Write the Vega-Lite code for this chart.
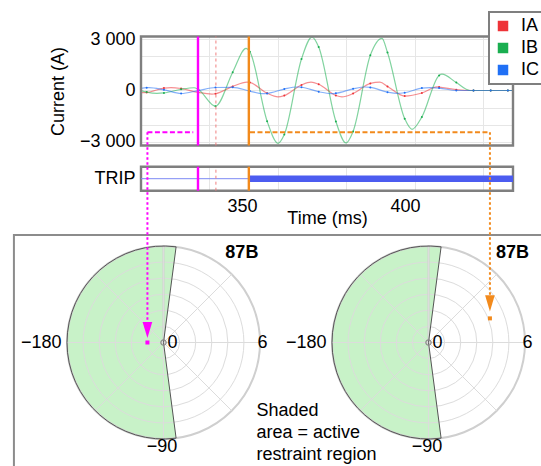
{
"$schema":"https://vega.github.io/schema/vega-lite/v6.json",
"width":541,"height":466,"autosize":"none","padding":0,"background":"white",
"config":{"view":{"stroke":null},"font":"Liberation Sans","axis":{"labelFont":"Liberation Sans","titleFont":"Liberation Sans","labelColor":"#000","titleColor":"#000"},"legend":{"strokeWidth":2,"labelFont":"Liberation Sans","labelColor":"#000"},"text":{"font":"Liberation Sans","color":"#000"}},
"resolve":{"scale":{"x":"independent","y":"independent","color":"independent","theta":"independent","radius":"independent","strokeWidth":"independent","opacity":"independent"}},
"datasets":{
"one":[{}],
"ev":[{"t":336.5,"e":"fault"},{"t":342.0,"e":"pickup"},{"t":352.1,"e":"trip"}],
"trip":[{"t0":319.02,"t1":352.4,"s":0},{"t0":352.4,"t1":433.13,"s":1}],
"sector":[{"a0":172.5,"a1":367.5,"r":6}],
"rings":[{"a0":0,"a1":360,"r":1},{"a0":0,"a1":360,"r":2},{"a0":0,"a1":360,"r":3},{"a0":0,"a1":360,"r":4},{"a0":0,"a1":360,"r":5}],
"outer":[{"a0":0,"a1":360,"r":6}],
"spokes":[{"x0":-6,"y0":0,"x1":6,"y1":0},{"x0":0,"y0":-6,"x1":0,"y1":6},{"x0":-4.243,"y0":-4.243,"x1":4.243,"y1":4.243},{"x0":-4.243,"y0":4.243,"x1":4.243,"y1":-4.243}],
"plab":[{"lbl":"−180","x":-7.6,"y":0},{"lbl":"0","x":0.56,"y":0},{"lbl":"6","x":6.15,"y":0},{"lbl":"−90","x":-0.1,"y":-6.5}],
"waves":[
{"t":319.02,"p":"IA","v":-130,"m":0},{"t":320.77,"p":"IA","v":-115,"m":1},{"t":326.05,"p":"IA","v":140,"m":1},{"t":328.22,"p":"IA","v":170,"m":0},{"t":331.32,"p":"IA","v":117,"m":1},{"t":336.6,"p":"IA","v":-115,"m":1},{"t":340.8,"p":"IA","v":-210,"m":0},{"t":341.87,"p":"IA","v":-191,"m":1},{"t":347.15,"p":"IA","v":238,"m":1},{"t":351.53,"p":"IA","v":490,"m":0},{"t":352.42,"p":"IA","v":472,"m":1},{"t":357.7,"p":"IA","v":-163,"m":1},{"t":361.04,"p":"IA","v":-376,"m":0},{"t":362.98,"p":"IA","v":-301,"m":1},{"t":368.25,"p":"IA","v":325,"m":1},{"t":371.17,"p":"IA","v":490,"m":0},{"t":373.53,"p":"IA","v":366,"m":1},{"t":378.8,"p":"IA","v":-295,"m":1},{"t":380.67,"p":"IA","v":-376,"m":0},{"t":384.08,"p":"IA","v":-178,"m":1},{"t":389.36,"p":"IA","v":414,"m":1},{"t":392.33,"p":"IA","v":490,"m":0},{"t":394.63,"p":"IA","v":237,"m":1},{"t":399.91,"p":"IA","v":-330,"m":1},{"t":405.18,"p":"IA","v":-150,"m":1},{"t":409.82,"p":"IA","v":210,"m":0},{"t":410.46,"p":"IA","v":200,"m":1},{"t":415.74,"p":"IA","v":50,"m":1},{"t":421.01,"p":"IA","v":0,"m":1},{"t":426.29,"p":"IA","v":0,"m":1},{"t":431.56,"p":"IA","v":0,"m":1},{"t":433.13,"p":"IA","v":0,"m":0},
{"t":319.02,"p":"IB","v":-8,"m":0},{"t":320.77,"p":"IB","v":-95,"m":1},{"t":323.93,"p":"IB","v":-170,"m":0},{"t":326.05,"p":"IB","v":-143,"m":1},{"t":331.32,"p":"IB","v":70,"m":1},{"t":335.28,"p":"IB","v":160,"m":0},{"t":336.6,"p":"IB","v":61,"m":1},{"t":341.87,"p":"IB","v":-920,"m":1},{"t":347.15,"p":"IB","v":1075,"m":1},{"t":351.23,"p":"IB","v":2470,"m":0},{"t":352.42,"p":"IB","v":2270,"m":1},{"t":357.7,"p":"IB","v":-1800,"m":1},{"t":361.04,"p":"IB","v":-3100,"m":0},{"t":362.98,"p":"IB","v":-2589,"m":1},{"t":368.25,"p":"IB","v":1850,"m":1},{"t":371.47,"p":"IB","v":3135,"m":0},{"t":373.53,"p":"IB","v":2557,"m":1},{"t":378.8,"p":"IB","v":-1818,"m":1},{"t":381.9,"p":"IB","v":-3080,"m":0},{"t":384.08,"p":"IB","v":-2405,"m":1},{"t":389.36,"p":"IB","v":2065,"m":1},{"t":392.94,"p":"IB","v":3060,"m":0},{"t":394.63,"p":"IB","v":2227,"m":1},{"t":399.91,"p":"IB","v":-1661,"m":1},{"t":402.15,"p":"IB","v":-2280,"m":0},{"t":405.18,"p":"IB","v":-1550,"m":1},{"t":410.46,"p":"IB","v":884,"m":1},{"t":411.35,"p":"IB","v":958,"m":0},{"t":415.74,"p":"IB","v":464,"m":1},{"t":419.94,"p":"IB","v":0,"m":0},{"t":421.01,"p":"IB","v":0,"m":1},{"t":426.29,"p":"IB","v":0,"m":1},{"t":431.56,"p":"IB","v":0,"m":1},{"t":433.13,"p":"IB","v":0,"m":0},
{"t":319.02,"p":"IC","v":123,"m":0},{"t":320.77,"p":"IC","v":166,"m":1},{"t":321.47,"p":"IC","v":170,"m":0},{"t":326.05,"p":"IC","v":40,"m":1},{"t":331.32,"p":"IC","v":-176,"m":1},{"t":336.6,"p":"IC","v":-3,"m":1},{"t":341.87,"p":"IC","v":176,"m":1},{"t":347.15,"p":"IC","v":185,"m":1},{"t":352.42,"p":"IC","v":-37,"m":1},{"t":356.44,"p":"IC","v":-185,"m":0},{"t":357.7,"p":"IC","v":-171,"m":1},{"t":362.98,"p":"IC","v":85,"m":1},{"t":366.87,"p":"IC","v":205,"m":0},{"t":368.25,"p":"IC","v":189,"m":1},{"t":373.53,"p":"IC","v":-72,"m":1},{"t":377.3,"p":"IC","v":-185,"m":0},{"t":378.8,"p":"IC","v":-165,"m":1},{"t":384.08,"p":"IC","v":98,"m":1},{"t":387.73,"p":"IC","v":205,"m":0},{"t":389.36,"p":"IC","v":180,"m":1},{"t":394.63,"p":"IC","v":-98,"m":1},{"t":397.55,"p":"IC","v":-175,"m":0},{"t":399.91,"p":"IC","v":-132,"m":1},{"t":405.18,"p":"IC","v":140,"m":1},{"t":407.67,"p":"IC","v":165,"m":0},{"t":410.46,"p":"IC","v":140,"m":1},{"t":415.74,"p":"IC","v":0,"m":1},{"t":421.01,"p":"IC","v":0,"m":1},{"t":426.29,"p":"IC","v":0,"m":1},{"t":431.56,"p":"IC","v":0,"m":1},{"t":433.13,"p":"IC","v":0,"m":0}
]},
"layer":[
{"data":{"name":"one"},"mark":{"type":"rect","filled":false,"stroke":"#8c8c8c","strokeWidth":2},"encoding":{"x":{"datum":-9.3,"type":"quantitative","scale":{"domain":[-6,6],"range":[67,260],"nice":false,"zero":false},"axis":null},"x2":{"datum":23.7},"y":{"datum":6.69,"type":"quantitative","scale":{"domain":[-6,6],"range":[439,246],"nice":false,"zero":false},"axis":null},"y2":{"datum":-7.93}}},

{"data":{"name":"sector"},"mark":{"type":"arc","fill":"#c8f2c8","strokeWidth":0},"encoding":{"x":{"datum":0,"type":"quantitative","scale":{"domain":[-6,6],"range":[67,260],"nice":false,"zero":false},"axis":null},"y":{"datum":0,"type":"quantitative","scale":{"domain":[-6,6],"range":[439,246],"nice":false,"zero":false},"axis":null},"theta":{"field":"a0","type":"quantitative","scale":{"domain":[0,360],"range":[0,6.283185]},"stack":null},"theta2":{"field":"a1"},"radius":{"field":"r","type":"quantitative","scale":{"type":"linear","domain":[0,6],"range":[0,96.5],"zero":true}}}},
{"data":{"name":"rings"},"mark":{"type":"arc","filled":false,"stroke":"#dcdcdc","strokeWidth":1},"encoding":{"x":{"datum":0,"type":"quantitative","scale":{"domain":[-6,6],"range":[67,260],"nice":false,"zero":false},"axis":null},"y":{"datum":0,"type":"quantitative","scale":{"domain":[-6,6],"range":[439,246],"nice":false,"zero":false},"axis":null},"theta":{"field":"a0","type":"quantitative","scale":{"domain":[0,360],"range":[0,6.283185]},"stack":null},"theta2":{"field":"a1"},"radius":{"field":"r","type":"quantitative","scale":{"type":"linear","domain":[0,6],"range":[0,96.5],"zero":true}}}},
{"data":{"name":"outer"},"mark":{"type":"arc","filled":false,"stroke":"#cfcfcf","strokeWidth":2},"encoding":{"x":{"datum":0,"type":"quantitative","scale":{"domain":[-6,6],"range":[67,260],"nice":false,"zero":false},"axis":null},"y":{"datum":0,"type":"quantitative","scale":{"domain":[-6,6],"range":[439,246],"nice":false,"zero":false},"axis":null},"theta":{"field":"a0","type":"quantitative","scale":{"domain":[0,360],"range":[0,6.283185]},"stack":null},"theta2":{"field":"a1"},"radius":{"field":"r","type":"quantitative","scale":{"type":"linear","domain":[0,6],"range":[0,96.5],"zero":true}}}},
{"data":{"name":"spokes"},"mark":{"type":"rule","stroke":"#dcdcdc","strokeWidth":1},"encoding":{"x":{"field":"x0","type":"quantitative","scale":{"domain":[-6,6],"range":[67,260],"nice":false,"zero":false},"axis":null},"x2":{"field":"x1"},"y":{"field":"y0","type":"quantitative","scale":{"domain":[-6,6],"range":[439,246],"nice":false,"zero":false},"axis":null},"y2":{"field":"y1"}}},
{"data":{"name":"sector"},"mark":{"type":"arc","filled":false,"stroke":"#555555","strokeWidth":1},"encoding":{"x":{"datum":0,"type":"quantitative","scale":{"domain":[-6,6],"range":[67,260],"nice":false,"zero":false},"axis":null},"y":{"datum":0,"type":"quantitative","scale":{"domain":[-6,6],"range":[439,246],"nice":false,"zero":false},"axis":null},"theta":{"field":"a0","type":"quantitative","scale":{"domain":[0,360],"range":[0,6.283185]},"stack":null},"theta2":{"field":"a1"},"radius":{"field":"r","type":"quantitative","scale":{"type":"linear","domain":[0,6],"range":[0,96.5],"zero":true}}}},
{"data":{"name":"one"},"mark":{"type":"point","shape":"circle","size":28,"filled":false,"stroke":"#8a8a8a","strokeWidth":1.2,"opacity":1},"encoding":{"x":{"datum":0,"type":"quantitative","scale":{"domain":[-6,6],"range":[67,260],"nice":false,"zero":false},"axis":null},"y":{"datum":0,"type":"quantitative","scale":{"domain":[-6,6],"range":[439,246],"nice":false,"zero":false},"axis":null}}},
{"data":{"name":"plab"},"mark":{"type":"text","fontSize":18,"align":"center","baseline":"middle"},"encoding":{"x":{"field":"x","type":"quantitative","scale":{"domain":[-6,6],"range":[67,260],"nice":false,"zero":false},"axis":null},"y":{"field":"y","type":"quantitative","scale":{"domain":[-6,6],"range":[439,246],"nice":false,"zero":false},"axis":null},"text":{"field":"lbl"}}},
{"data":{"name":"one"},"mark":{"type":"text","fontSize":18,"fontWeight":"bold","align":"right","baseline":"middle"},"encoding":{"x":{"datum":5.9,"type":"quantitative","scale":{"domain":[-6,6],"range":[67,260],"nice":false,"zero":false},"axis":null},"y":{"datum":5.57,"type":"quantitative","scale":{"domain":[-6,6],"range":[439,246],"nice":false,"zero":false},"axis":null},"text":{"value":"87B"}}},

{"data":{"name":"sector"},"mark":{"type":"arc","fill":"#c8f2c8","strokeWidth":0},"encoding":{"x":{"datum":0,"type":"quantitative","scale":{"domain":[-6,6],"range":[332,525],"nice":false,"zero":false},"axis":null},"y":{"datum":0,"type":"quantitative","scale":{"domain":[-6,6],"range":[439,246],"nice":false,"zero":false},"axis":null},"theta":{"field":"a0","type":"quantitative","scale":{"domain":[0,360],"range":[0,6.283185]},"stack":null},"theta2":{"field":"a1"},"radius":{"field":"r","type":"quantitative","scale":{"type":"linear","domain":[0,6],"range":[0,96.5],"zero":true}}}},
{"data":{"name":"rings"},"mark":{"type":"arc","filled":false,"stroke":"#dcdcdc","strokeWidth":1},"encoding":{"x":{"datum":0,"type":"quantitative","scale":{"domain":[-6,6],"range":[332,525],"nice":false,"zero":false},"axis":null},"y":{"datum":0,"type":"quantitative","scale":{"domain":[-6,6],"range":[439,246],"nice":false,"zero":false},"axis":null},"theta":{"field":"a0","type":"quantitative","scale":{"domain":[0,360],"range":[0,6.283185]},"stack":null},"theta2":{"field":"a1"},"radius":{"field":"r","type":"quantitative","scale":{"type":"linear","domain":[0,6],"range":[0,96.5],"zero":true}}}},
{"data":{"name":"outer"},"mark":{"type":"arc","filled":false,"stroke":"#cfcfcf","strokeWidth":2},"encoding":{"x":{"datum":0,"type":"quantitative","scale":{"domain":[-6,6],"range":[332,525],"nice":false,"zero":false},"axis":null},"y":{"datum":0,"type":"quantitative","scale":{"domain":[-6,6],"range":[439,246],"nice":false,"zero":false},"axis":null},"theta":{"field":"a0","type":"quantitative","scale":{"domain":[0,360],"range":[0,6.283185]},"stack":null},"theta2":{"field":"a1"},"radius":{"field":"r","type":"quantitative","scale":{"type":"linear","domain":[0,6],"range":[0,96.5],"zero":true}}}},
{"data":{"name":"spokes"},"mark":{"type":"rule","stroke":"#dcdcdc","strokeWidth":1},"encoding":{"x":{"field":"x0","type":"quantitative","scale":{"domain":[-6,6],"range":[332,525],"nice":false,"zero":false},"axis":null},"x2":{"field":"x1"},"y":{"field":"y0","type":"quantitative","scale":{"domain":[-6,6],"range":[439,246],"nice":false,"zero":false},"axis":null},"y2":{"field":"y1"}}},
{"data":{"name":"sector"},"mark":{"type":"arc","filled":false,"stroke":"#555555","strokeWidth":1},"encoding":{"x":{"datum":0,"type":"quantitative","scale":{"domain":[-6,6],"range":[332,525],"nice":false,"zero":false},"axis":null},"y":{"datum":0,"type":"quantitative","scale":{"domain":[-6,6],"range":[439,246],"nice":false,"zero":false},"axis":null},"theta":{"field":"a0","type":"quantitative","scale":{"domain":[0,360],"range":[0,6.283185]},"stack":null},"theta2":{"field":"a1"},"radius":{"field":"r","type":"quantitative","scale":{"type":"linear","domain":[0,6],"range":[0,96.5],"zero":true}}}},
{"data":{"name":"one"},"mark":{"type":"point","shape":"circle","size":28,"filled":false,"stroke":"#8a8a8a","strokeWidth":1.2,"opacity":1},"encoding":{"x":{"datum":0,"type":"quantitative","scale":{"domain":[-6,6],"range":[332,525],"nice":false,"zero":false},"axis":null},"y":{"datum":0,"type":"quantitative","scale":{"domain":[-6,6],"range":[439,246],"nice":false,"zero":false},"axis":null}}},
{"data":{"name":"plab"},"mark":{"type":"text","fontSize":18,"align":"center","baseline":"middle"},"encoding":{"x":{"field":"x","type":"quantitative","scale":{"domain":[-6,6],"range":[332,525],"nice":false,"zero":false},"axis":null},"y":{"field":"y","type":"quantitative","scale":{"domain":[-6,6],"range":[439,246],"nice":false,"zero":false},"axis":null},"text":{"field":"lbl"}}},
{"data":{"name":"one"},"mark":{"type":"text","fontSize":18,"fontWeight":"bold","align":"right","baseline":"middle"},"encoding":{"x":{"datum":6.25,"type":"quantitative","scale":{"domain":[-6,6],"range":[332,525],"nice":false,"zero":false},"axis":null},"y":{"datum":5.57,"type":"quantitative","scale":{"domain":[-6,6],"range":[439,246],"nice":false,"zero":false},"axis":null},"text":{"value":"87B"}}},

{"data":{"name":"one"},"mark":{"type":"text","fontSize":18,"align":"left","baseline":"middle","lineBreak":"\n","lineHeight":22},"encoding":{"x":{"datum":5.78,"type":"quantitative","scale":{"domain":[-6,6],"range":[67,260],"nice":false,"zero":false},"axis":null},"y":{"datum":-4.26,"type":"quantitative","scale":{"domain":[-6,6],"range":[439,246],"nice":false,"zero":false},"axis":null},"text":{"value":"Shaded\narea = active\nrestraint region"}}},

{"data":{"name":"waves"},"mark":{"type":"line","interpolate":"monotone","strokeWidth":1.2},"encoding":{
"x":{"field":"t","type":"quantitative","scale":{"domain":[319.02,433.13],"range":[141,513],"nice":false,"zero":false},"axis":{"orient":"top","values":[339.9,361,381.9,403.1,423.9],"grid":true,"gridColor":"#e6e6e6","labels":false,"ticks":false,"domain":false,"title":null}},
"y":{"field":"v","type":"quantitative","scale":{"domain":[-3230,3170],"range":[145.5,36.5],"nice":false,"zero":false},"axis":{"orient":"left","offset":-141,"values":[-3000,-2000,-1000,0,1000,2000,3000],"labelExpr":"datum.value==3000?'3 000':datum.value==-3000?'−3 000':datum.value==0?'0':''","labelOverlap":false,"labelFlush":false,"grid":true,"gridColor":"#e6e6e6","ticks":false,"domain":false,"labelPadding":6,"labelFontSize":18,"title":"Current (A)","titleFontSize":18,"titleFontWeight":"normal","titleX":-83,"titleY":91,"titleAngle":-90,"titleAlign":"center","titleBaseline":"middle"}},
"color":{"field":"p","type":"nominal","scale":{"domain":["IA","IB","IC"],"range":["#ee3338","#1aae50","#2070f5"]},"legend":null},
"opacity":{"field":"p","type":"nominal","scale":{"domain":["IA","IB","IC"],"range":[0.55,0.55,0.7]},"legend":null}}},
{"data":{"name":"waves"},"transform":[{"filter":"datum.m==1"}],"mark":{"type":"point","filled":true,"size":4,"opacity":1},"encoding":{
"x":{"field":"t","type":"quantitative","scale":{"domain":[319.02,433.13],"range":[141,513],"nice":false,"zero":false},"axis":null},
"y":{"field":"v","type":"quantitative","scale":{"domain":[-3230,3170],"range":[145.5,36.5],"nice":false,"zero":false},"axis":null},
"color":{"field":"p","type":"nominal","scale":{"domain":["IA","IB","IC"],"range":["#ee3338","#1aae50","#2070f5"]},"legend":{"title":null,"orient":"none","legendX":489,"legendY":12,"symbolType":"square","symbolSize":110,"symbolStrokeWidth":0,"symbolOpacity":1,"labelFontSize":18,"labelOffset":9,"padding":5,"rowPadding":4,"fillColor":"#ffffff","strokeColor":"#7f7f7f","zindex":1}}}},
{"data":{"name":"one"},"mark":{"type":"rect","filled":false,"stroke":"#7f7f7f","strokeWidth":2.4},"encoding":{"x":{"datum":319.02,"type":"quantitative","scale":{"domain":[319.02,433.13],"range":[141,513],"nice":false,"zero":false},"axis":null},"x2":{"datum":433.13},"y":{"datum":-3230,"type":"quantitative","scale":{"domain":[-3230,3170],"range":[145.5,36.5],"nice":false,"zero":false},"axis":null},"y2":{"datum":3170}}},
{"data":{"name":"ev"},"transform":[{"filter":"datum.e!='pickup'"}],"mark":{"type":"rule","strokeWidth":2.4},"encoding":{"x":{"field":"t","type":"quantitative","scale":{"domain":[319.02,433.13],"range":[141,513],"nice":false,"zero":false},"axis":null},"y":{"datum":-3230,"type":"quantitative","scale":{"domain":[-3230,3170],"range":[145.5,36.5],"nice":false,"zero":false},"axis":null},"y2":{"datum":3170},"color":{"field":"e","type":"nominal","scale":{"domain":["fault","trip"],"range":["#ff00ff","#f28a1c"]},"legend":null}}},
{"data":{"name":"ev"},"transform":[{"filter":"datum.e=='pickup'"}],"mark":{"type":"rule","strokeWidth":1,"strokeDash":[3,3],"color":"#f07f7f"},"encoding":{"x":{"field":"t","type":"quantitative","scale":{"domain":[319.02,433.13],"range":[141,513],"nice":false,"zero":false},"axis":null},"y":{"datum":-3230,"type":"quantitative","scale":{"domain":[-3230,3170],"range":[145.5,36.5],"nice":false,"zero":false},"axis":null},"y2":{"datum":3170}}},

{"data":{"name":"one"},"mark":{"type":"rect","filled":false,"stroke":"#7f7f7f","strokeWidth":2.4},"encoding":{"x":{"datum":319.02,"type":"quantitative","scale":{"domain":[319.02,433.13],"range":[141,513],"nice":false,"zero":false},"axis":{"orient":"top","values":[339.9,361,381.9,403.1,423.9],"grid":true,"gridColor":"#e6e6e6","labels":false,"ticks":false,"domain":false,"title":null}},"x2":{"datum":433.13},"y":{"datum":0,"type":"quantitative","scale":{"domain":[0,1],"range":[190.7,166.7],"nice":false,"zero":false},"axis":null},"y2":{"datum":1}}},
{"data":{"name":"trip"},"mark":{"type":"rule"},"encoding":{
"x":{"field":"t0","type":"quantitative","scale":{"domain":[319.02,433.13],"range":[141,513],"nice":false,"zero":false},"axis":{"orient":"bottom","offset":-275,"values":[350,400],"grid":false,"ticks":false,"domain":false,"labelPadding":6,"labelFontSize":18,"labelFlush":false,"labelOverlap":false,"title":"Time (ms)","titleFontSize":18,"titleFontWeight":"normal","titleBaseline":"top","titleY":18}},
"x2":{"field":"t1"},
"y":{"datum":0.5,"type":"quantitative","scale":{"domain":[0,1],"range":[190.7,166.7],"nice":false,"zero":false},"axis":{"orient":"left","offset":-141,"values":[0.5],"labelExpr":"'TRIP'","labelOverlap":false,"labelFlush":false,"grid":false,"ticks":false,"domain":false,"labelPadding":6,"labelFontSize":18,"title":null}},
"strokeWidth":{"field":"s","type":"quantitative","scale":{"domain":[0,1],"range":[1,6.5]},"legend":null},
"color":{"field":"s","type":"quantitative","scale":{"domain":[0,1],"range":["#7d89f4","#4c5cf0"]},"legend":null}}},
{"data":{"name":"ev"},"transform":[{"filter":"datum.e!='pickup'"}],"mark":{"type":"rule","strokeWidth":2.4},"encoding":{"x":{"field":"t","type":"quantitative","scale":{"domain":[319.02,433.13],"range":[141,513],"nice":false,"zero":false},"axis":null},"y":{"datum":0,"type":"quantitative","scale":{"domain":[0,1],"range":[190.7,166.7],"nice":false,"zero":false},"axis":null},"y2":{"datum":1},"color":{"field":"e","type":"nominal","scale":{"domain":["fault","trip"],"range":["#ff00ff","#f28a1c"]},"legend":null}}},
{"data":{"name":"ev"},"transform":[{"filter":"datum.e=='pickup'"}],"mark":{"type":"rule","strokeWidth":1,"strokeDash":[3,3],"color":"#f07f7f"},"encoding":{"x":{"field":"t","type":"quantitative","scale":{"domain":[319.02,433.13],"range":[141,513],"nice":false,"zero":false},"axis":null},"y":{"datum":0,"type":"quantitative","scale":{"domain":[0,1],"range":[190.7,166.7],"nice":false,"zero":false},"axis":null},"y2":{"datum":1}}},

{"data":{"name":"one"},"mark":{"type":"rule","color":"#ff00ff","strokeWidth":2,"strokeDash":[5,2.5]},"encoding":{"x":{"datum":-1,"type":"quantitative","scale":{"domain":[-6,6],"range":[67,260],"nice":false,"zero":false},"axis":null},"x2":{"datum":1.85},"y":{"datum":13.07,"type":"quantitative","scale":{"domain":[-6,6],"range":[439,246],"nice":false,"zero":false},"axis":null}}},
{"data":{"name":"one"},"mark":{"type":"rule","color":"#ff00ff","strokeWidth":2,"strokeDash":[2.5,2.5]},"encoding":{"x":{"datum":-1,"type":"quantitative","scale":{"domain":[-6,6],"range":[67,260],"nice":false,"zero":false},"axis":null},"y":{"datum":13.07,"type":"quantitative","scale":{"domain":[-6,6],"range":[439,246],"nice":false,"zero":false},"axis":null},"y2":{"datum":1.27}}},
{"data":{"name":"one"},"mark":{"type":"point","shape":"M-0.6,-1L0.6,-1L0,1Z","size":260,"filled":true,"color":"#ff00ff","opacity":1},"encoding":{"x":{"datum":-1,"type":"quantitative","scale":{"domain":[-6,6],"range":[67,260],"nice":false,"zero":false},"axis":null},"y":{"datum":0.78,"type":"quantitative","scale":{"domain":[-6,6],"range":[439,246],"nice":false,"zero":false},"axis":null}}},
{"data":{"values":[{"re":-1.0,"im":0.0}]},"mark":{"type":"square","size":16,"color":"#ff00ff","opacity":1},"encoding":{"x":{"field":"re","type":"quantitative","scale":{"domain":[-6,6],"range":[67,260],"nice":false,"zero":false},"axis":null},"y":{"field":"im","type":"quantitative","scale":{"domain":[-6,6],"range":[439,246],"nice":false,"zero":false},"axis":null}}},

{"data":{"name":"one"},"mark":{"type":"rule","color":"#f28a1c","strokeWidth":2,"strokeDash":[5,2.5]},"encoding":{"x":{"datum":-11.1,"type":"quantitative","scale":{"domain":[-6,6],"range":[332,525],"nice":false,"zero":false},"axis":null},"x2":{"datum":3.82},"y":{"datum":13.07,"type":"quantitative","scale":{"domain":[-6,6],"range":[439,246],"nice":false,"zero":false},"axis":null}}},
{"data":{"name":"one"},"mark":{"type":"rule","color":"#f28a1c","strokeWidth":2,"strokeDash":[2.5,2.5]},"encoding":{"x":{"datum":3.82,"type":"quantitative","scale":{"domain":[-6,6],"range":[332,525],"nice":false,"zero":false},"axis":null},"y":{"datum":13.07,"type":"quantitative","scale":{"domain":[-6,6],"range":[439,246],"nice":false,"zero":false},"axis":null},"y2":{"datum":2.95}}},
{"data":{"name":"one"},"mark":{"type":"point","shape":"M-0.6,-1L0.6,-1L0,1Z","size":260,"filled":true,"color":"#f28a1c","opacity":1},"encoding":{"x":{"datum":3.82,"type":"quantitative","scale":{"domain":[-6,6],"range":[332,525],"nice":false,"zero":false},"axis":null},"y":{"datum":2.43,"type":"quantitative","scale":{"domain":[-6,6],"range":[439,246],"nice":false,"zero":false},"axis":null}}},
{"data":{"values":[{"re":3.82,"im":1.5}]},"mark":{"type":"square","size":16,"color":"#f28a1c","opacity":1},"encoding":{"x":{"field":"re","type":"quantitative","scale":{"domain":[-6,6],"range":[332,525],"nice":false,"zero":false},"axis":null},"y":{"field":"im","type":"quantitative","scale":{"domain":[-6,6],"range":[439,246],"nice":false,"zero":false},"axis":null}}}
]
}
